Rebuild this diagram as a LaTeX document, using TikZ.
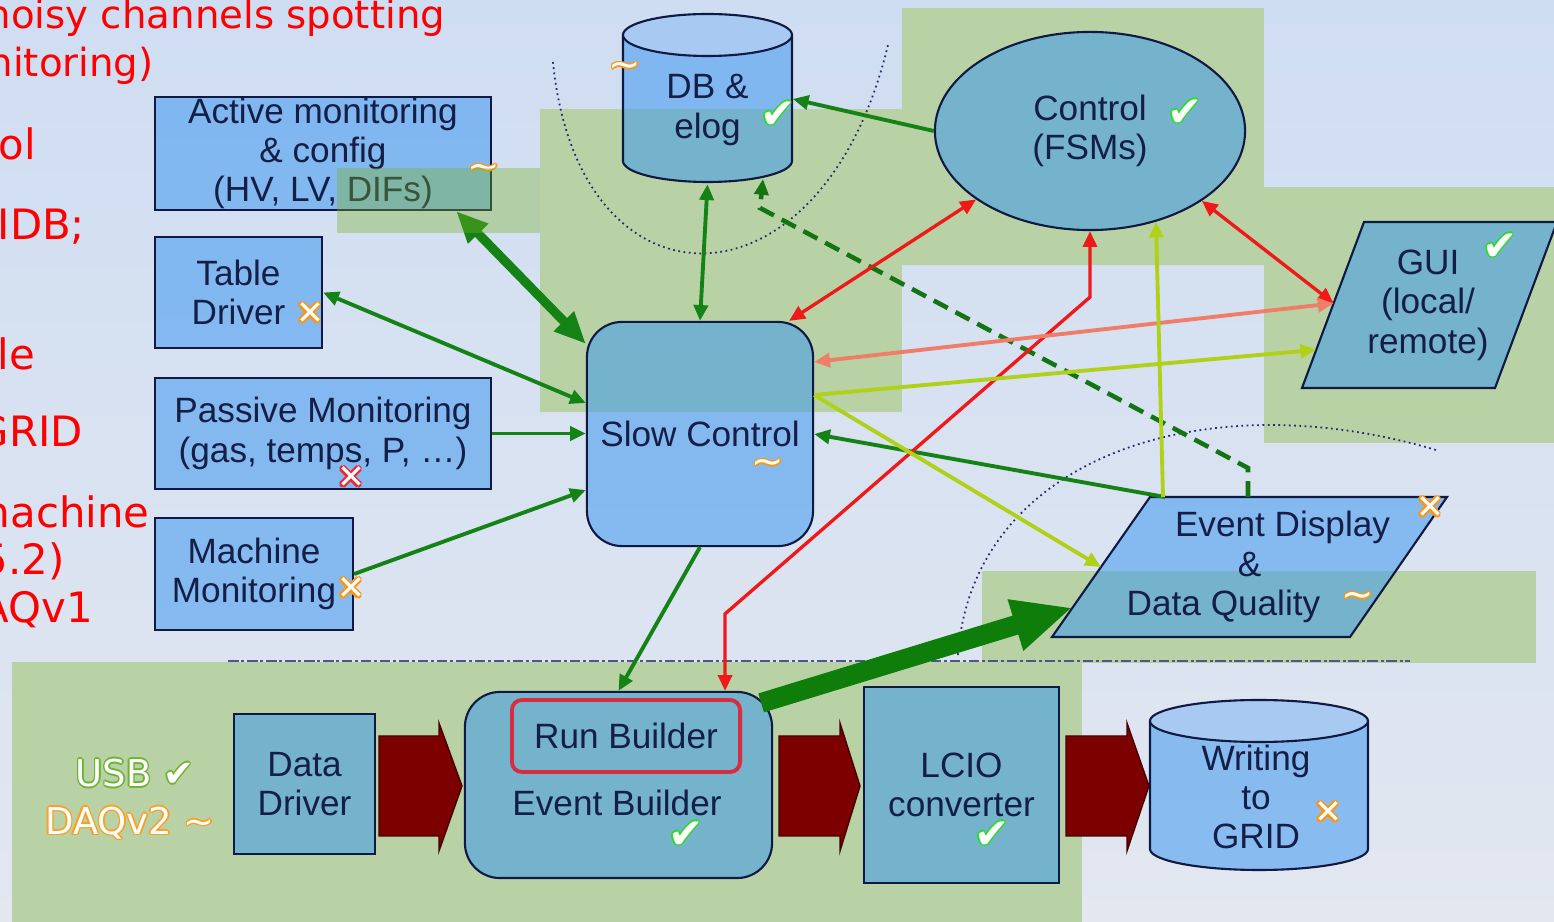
\documentclass[tikz,border=0pt]{standalone}
\usepackage{fontspec}
\usepackage{xcolor}
\usepackage{tikz}
\usetikzlibrary{arrows.meta,positioning,calc,shapes.geometric}
\newfontfamily\labelfont{Liberation Sans}
\newfontfamily\notefont{DejaVu Sans}
\definecolor{bgtop}{RGB}{207,221,242}
\definecolor{bgbot}{RGB}{226,231,240}
\definecolor{zonegreen}{RGB}{185,210,165}
\definecolor{stripgreen}{RGB}{122,178,38}
\definecolor{boxblue}{RGB}{58,150,240}
\definecolor{capblue}{RGB}{168,202,242}
\definecolor{edgenavy}{RGB}{15,25,65}
\definecolor{inknavy}{RGB}{20,30,70}
\definecolor{guidenavy}{RGB}{40,40,110}
\definecolor{arrgreen}{RGB}{20,130,20}
\definecolor{bandgreen}{RGB}{15,125,10}
\definecolor{ctrlred}{RGB}{240,25,25}
\definecolor{salmon}{RGB}{238,125,105}
\definecolor{lime}{RGB}{175,210,25}
\definecolor{blockred}{RGB}{125,0,0}
\definecolor{runred}{RGB}{215,45,65}
\definecolor{tickgreen}{RGB}{40,220,40}
\definecolor{markorange}{RGB}{250,150,20}
\definecolor{markred}{RGB}{235,40,50}
\definecolor{usbgreen}{RGB}{110,180,50}
\definecolor{daqorange}{RGB}{250,160,40}
\definecolor{notered}{RGB}{255,0,0}
% white text with a coloured rim
\newcommand{\ringtext}[2]{{\color{#1}%
  \rlap{\kern0.45pt#2}\rlap{\kern-0.45pt#2}%
  \rlap{\raisebox{0.45pt}{#2}}\rlap{\raisebox{-0.45pt}{#2}}%
  \rlap{\kern0.32pt\raisebox{0.32pt}{#2}}\rlap{\kern-0.32pt\raisebox{0.32pt}{#2}}%
  \rlap{\kern0.32pt\raisebox{-0.32pt}{#2}}\rlap{\kern-0.32pt\raisebox{-0.32pt}{#2}}}%
  \textcolor{white}{#2}}
\newcommand{\okmark}{\ringtext{tickgreen}{✔}}
\newcommand{\nomark}{\ringtext{markorange}{✕}}
\newcommand{\nomarkred}{\ringtext{markred}{✕}}
\newcommand{\aboutmark}{\ringtext{markorange}{\textasciitilde}}
\tikzset{
  zone/.style={fill=zonegreen},
  strip/.style={fill=stripgreen, fill opacity=0.37},
  guide/.style={guidenavy, line width=0.5pt, densely dotted},
  splitline/.style={guidenavy!80, line width=0.5pt, dash pattern=on 3pt off 0.8pt on 0.8pt off 0.8pt},
  boxnode/.style={rectangle, draw=edgenavy, line width=0.6pt, fill=boxblue, fill opacity=0.53, text opacity=1, text=inknavy, font=\labelfont\fontsize{10}{11.2}\selectfont, align=center, inner sep=0pt},
  roundnode/.style={boxnode, rounded corners=0.35cm},
  slantbox/.style={draw=edgenavy, line width=0.6pt, fill=boxblue, fill opacity=0.53},
  runnode/.style={rectangle, rounded corners=0.1cm, draw=runred, line width=1.1pt, text=inknavy, font=\labelfont\fontsize{10}{11.2}\selectfont, inner sep=0pt},
  textonly/.style={text=inknavy, font=\labelfont\fontsize{10}{11.2}\selectfont, align=center, inner sep=0pt},
  cylbody/.style={fill=boxblue, fill opacity=0.53},
  cylline/.style={draw=edgenavy, line width=0.6pt},
  notebig/.style={text=notered, font=\notefont\fontsize{11.9}{14}\selectfont, anchor=base west, inner sep=0pt},
  notesmall/.style={text=notered, font=\notefont\fontsize{11}{13}\selectfont, anchor=base west, inner sep=0pt},
  tick/.style={font=\notefont\fontsize{12}{12}\selectfont, inner sep=0pt},
  cross/.style={font=\notefont\fontsize{9.5}{10}\selectfont, inner sep=0pt},
  wave/.style={font=\notefont\fontsize{11}{11}\selectfont, inner sep=0pt},
  hollow/.style={font=\notefont\fontsize{10.5}{12}\selectfont, inner sep=0pt},
  onehead/.style={-{Triangle[length=4.5pt,width=4pt]}},
  twohead/.style={{Triangle[length=4.5pt,width=4pt]}-{Triangle[length=4.5pt,width=4pt]}},
  greenline/.style={arrgreen, line width=1.1pt},
  redline/.style={ctrlred, line width=0.95pt},
  salmonline/.style={salmon, line width=1.1pt},
  limeline/.style={lime, line width=1.1pt},
  dashline/.style={arrgreen!90!black, line width=1.3pt, dash pattern=on 4.5pt off 2.5pt},
  blockarr/.style={fill=blockred, draw=blockred!55!black, line width=0.4pt}
}

\begin{document}
\begin{tikzpicture}[x=0.01cm, y=-0.01cm]
  \useasboundingbox (0,0) rectangle (1554,922);
  \clip (0,0) rectangle (1554,922);
  \shade[top color=bgtop, bottom color=bgbot] (0,0) rectangle (1554,922);

  % Green areas
  \fill[zone] (540,109) rectangle (902,412);
  \fill[zone] (902,8) rectangle (1264,265);
  \fill[zone] (1264,187) rectangle (1554,443);
  \fill[zone] (982,571) rectangle (1536,663);
  \fill[zone] (12,662) rectangle (1082,922);

  % Guide curves
  \draw[guide] (553,62) .. controls (578,320) and (822,320) .. (888,45);
  \draw[guide] (958,655) .. controls (972,460) and (1200,380) .. (1436,450);
  \draw[splitline] (228,661) -- (1410,661);

  % Notes cut at the left edge
  \node[notesmall] (note1) at (-14,29) {noisy channels spotting};
  \node[notesmall] (note2) at (-12,77) {nitoring)};
  \node[notebig] (note3) at (-2,160) {ol};
  \node[notebig] (note4) at (-3,240) {IDB;};
  \node[notebig] (note5) at (-3,370) {le};
  \node[notebig] (note6) at (-24,447) {GRID};
  \node[notebig] (note7) at (-31,528) {machine};
  \node[notebig] (note8) at (-19,575) {5.2)};
  \node[notebig] (note9) at (-20,623) {AQv1};

  % Slow control side
  \node[boxnode, minimum width=3.36cm, minimum height=1.13cm] (am) at (323,153.5) {Active monitoring\\ \& config\\ (HV, LV, DIFs)};
  \node[boxnode, minimum width=1.67cm, minimum height=1.11cm] (td) at (238.5,292.5) {Table\\ Driver};
  \node[boxnode, minimum width=3.36cm, minimum height=1.11cm] (pm) at (323,433.5) {Passive Monitoring\\ (gas, temps, P, …)};
  \node[boxnode, minimum width=1.98cm, minimum height=1.12cm] (mm) at (254,574) {Machine\\ Monitoring};
  \node[roundnode, minimum width=2.26cm, minimum height=2.24cm] (sc) at (700,434) {Slow Control};

  % DB cylinder
  \fill[cylbody] (623,35) -- (623,161) arc[start angle=180, end angle=0, x radius=84.5, y radius=21] -- (792,35) -- cycle;
  \draw[cylline] (623,35) -- (623,161) arc[start angle=180, end angle=0, x radius=84.5, y radius=21] -- (792,35);
  \draw[cylline, fill=capblue] (707.5,35) ellipse [x radius=84.5, y radius=21];
  \node[textonly, minimum width=1.69cm, minimum height=1.47cm] (db) at (707.5,110) {DB \&\\ elog};
  \coordinate (dbfoot) at (763,179);

  % Run control side
  \node[boxnode, ellipse, minimum width=3.1cm, minimum height=1.98cm] (ctrl) at (1090,131) {Control\\ (FSMs)};
  \coordinate (gui-bl) at (1302,388);
  \coordinate (gui-tl) at (1364,222);
  \coordinate (gui-tr) at (1557,222);
  \coordinate (gui-br) at (1495,388);
  \fill[slantbox] (gui-bl) -- (gui-tl) -- (gui-tr) -- (gui-br) -- cycle;
  \node[textonly] (gui) at (1428,305) {GUI\\ (local/\\ remote)};
  \coordinate (ed-bl) at (1052,637);
  \coordinate (ed-tl) at (1150,497);
  \coordinate (ed-tr) at (1447,497);
  \coordinate (ed-br) at (1350,637);
  \fill[slantbox] (ed-bl) -- (ed-tl) -- (ed-tr) -- (ed-br) -- cycle;
  \node[textonly] (ed) at (1249.5,567) {\hspace*{0.66cm}Event Display\\ \&\\ Data Quality\hspace*{0.52cm}};

  % DAQ chain
  \node[boxnode, minimum width=1.41cm, minimum height=1.40cm] (dd) at (304.5,784) {Data\\ Driver};
  \node[roundnode, minimum width=3.07cm, minimum height=1.86cm] (eb) at (618.5,785) {};
  \node[runnode, minimum width=2.28cm, minimum height=0.72cm] (rb) at (626,736) {Run Builder};
  \node[textonly] (ebtext) at (617,803) {Event Builder};
  \node[boxnode, minimum width=1.95cm, minimum height=1.96cm] (lcio) at (961.5,785) {LCIO\\ converter};

  % GRID cylinder
  \fill[cylbody] (1150,721) -- (1150,849) arc[start angle=180, end angle=0, x radius=109, y radius=21] -- (1368,721) -- cycle;
  \draw[cylline] (1150,721) -- (1150,849) arc[start angle=180, end angle=0, x radius=109, y radius=21] -- (1368,721);
  \draw[cylline, fill=capblue] (1259,721) ellipse [x radius=109, y radius=21];
  \node[textonly, minimum width=2.18cm, minimum height=1.49cm] (wg) at (1256,797) {Writing\\ to\\ GRID};

  % Data flow
  \foreach \a/\b/\c in {379/439/462, 779/840/860, 1066/1127/1149}
    \fill[blockarr] (\a,736) -- (\b,736) -- (\b,723) -- (\c,786) -- (\b,851) -- (\b,836) -- (\a,836) -- cycle;

  % Connectors
  \draw[arrgreen, line width=2.6pt, {Triangle[length=9pt,width=7.5pt]}-{Triangle[length=9pt,width=7.5pt]}] ([xshift=-0.36cm]am.south east) -- ([yshift=-0.23cm]sc.north west);
  \draw[greenline, twohead] (td.east) -- ([yshift=0.31cm]sc.west);
  \draw[greenline, onehead] (pm.east) -- (pm.east -| sc.west);
  \draw[greenline, onehead] (mm.east) -- ([yshift=-0.56cm]sc.west);
  \draw[greenline, twohead] (db.south) -- (sc.north);
  \draw[greenline, onehead] (ctrl.west) -- ([yshift=0.11cm]db.east);
  \draw[greenline, onehead] ([xshift=0.15cm]ed-tl) -- (sc.east);
  \draw[greenline, onehead] (sc.south) -- (eb.north);
  \draw[dashline, onehead] ($(ed-tl)!0.33!(ed-tr)$) -- ++(0,-29) -- (760,208) -- (dbfoot);
  \draw[redline, twohead] ([xshift=-0.25cm]sc.north east) -- (ctrl.211.7);
  \draw[redline, twohead] (ctrl.-32.5) -- ($(gui-bl)!0.51!(gui-tl)$);
  \draw[redline, twohead] (ctrl.south) -- ++(0,66) -- ([xshift=1.065cm,yshift=0.77cm]eb.north) -- ([xshift=1.065cm]eb.north);
  \draw[salmonline, twohead] ($(gui-bl)!0.51!(gui-tl)$) -- ([yshift=0.72cm]sc.east);
  \draw[limeline, onehead] ([yshift=0.39cm]sc.east) -- ($(gui-bl)!0.23!(gui-tl)$);
  \draw[limeline, onehead] ([yshift=0.39cm]sc.east) -- ($(ed-bl)!0.5!(ed-tl)$);
  \draw[limeline, onehead] ([xshift=0.13cm]ed-tl) -- (ctrl.-54.2);
  \draw[bandgreen, line width=5.6pt, -{Triangle[length=17pt,width=14pt]}] ([xshift=-0.12cm,yshift=-0.12cm]eb.north east) -- ($(ed-bl)!0.21!(ed-tl)$);

  % Status marks
  \node[tick] (ok1) at (778,115) {\okmark};
  \node[tick] (ok2) at (1185,113) {\okmark};
  \node[tick] (ok3) at (1500,247) {\okmark};
  \node[tick] (ok4) at (686,835) {\okmark};
  \node[tick] (ok5) at (992,835) {\okmark};
  \node[cross] (no1) at (310,314) {\nomark};
  \node[cross] (no2) at (351,589) {\nomark};
  \node[cross] (no3) at (1430,508) {\nomark};
  \node[cross] (no4) at (1328,813) {\nomark};
  \node[cross] (no5) at (351,478) {\nomarkred};
  \node[wave] (ab1) at (625,70) {\aboutmark};
  \node[wave] (ab2) at (484,172) {\aboutmark};
  \node[wave] (ab3) at (768,467) {\aboutmark};
  \node[wave] (ab4) at (1358,600) {\aboutmark};
  \node[hollow] (usb) at (135,773) {\ringtext{usbgreen}{USB ✔}};
  \node[hollow] (daq) at (130,823) {\ringtext{daqorange}{DAQv2 \textasciitilde}};

  % Tint over the DIFs corner
  \fill[strip] (337,168) rectangle (540,233);
\end{tikzpicture}
\end{document}
